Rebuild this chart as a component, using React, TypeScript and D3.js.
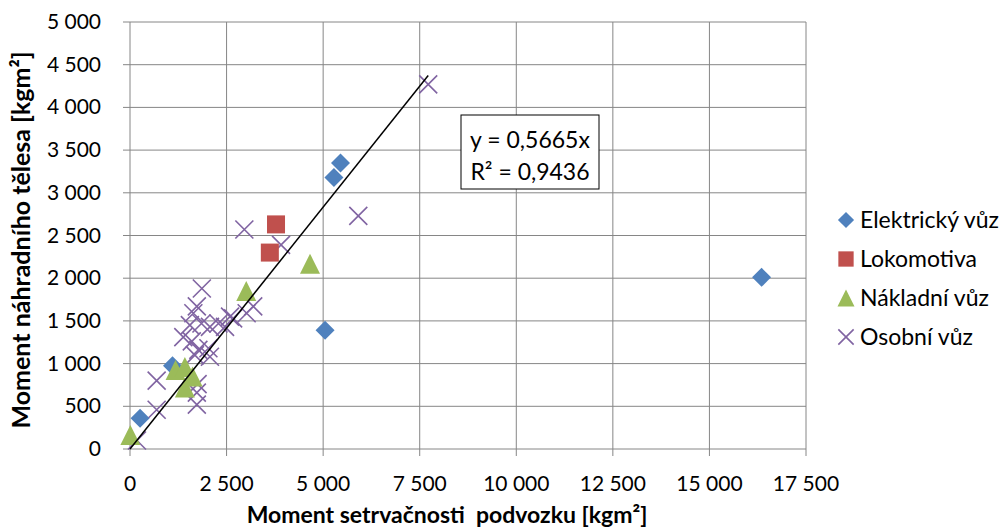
import React from "react";
import * as d3 from "d3";

const elektricky: [number, number][] = [
  [260, 360], [1100, 975], [5050, 1390], [5280, 3180], [5450, 3350], [16350, 2010],
];
const lokomotiva: [number, number][] = [
  [3620, 2300], [3780, 2630],
];
const nakladni: [number, number][] = [
  [10, 165], [1180, 925], [1420, 960], [1420, 720], [1620, 850], [3010, 1850], [4660, 2170],
];
const osobni: [number, number][] = [
  [180, 100], [690, 460], [690, 800], [1730, 520], [1730, 660], [1750, 760],
  [1680, 1100], [1770, 1160], [2030, 1180], [2070, 1080], [1600, 1260], [1380, 1310],
  [1550, 1450], [1850, 1470], [2070, 1430], [2290, 1470], [2590, 1550], [1640, 1590],
  [1730, 1670], [1860, 1880], [2460, 1430], [2670, 1530], [3020, 1590], [3190, 1670],
  [2960, 2570], [3910, 2390], [5910, 2730], [7720, 4270],
];
const seriesNames = ["Elektrický vůz", "Lokomotiva", "Nákladní vůz", "Osobní vůz"];
const seriesColors = ["#4F81BD", "#C0504D", "#9BBB59", "#8064A2"];
const slope = 0.5665;
const trendLabel = "y = 0,5665x";
const r2Label = "R² = 0,9436";
const xTicks = [0, 2500, 5000, 7500, 10000, 12500, 15000, 17500];
const yTicks = [0, 500, 1000, 1500, 2000, 2500, 3000, 3500, 4000, 4500, 5000];
const xTitle = "Moment setrvačnosti  podvozku [kgm²]";
const yTitle = "Moment náhradního tělesa [kgm²]";

const W = 1008, H = 530;
const L = 130, R = 806, T = 22, B = 449;
const FONT = "Lato, 'Open Sans', sans-serif";
const GRID = "#868686";

const fmt = (v: number) => {
  const s = String(v);
  return s.length > 3 ? s.slice(0, s.length - 3) + " " + s.slice(-3) : s;
};

function Marker({ type, x, y, s = 1 }: { type: number; x: number; y: number; s?: number }) {
  const c = seriesColors[type];
  if (type === 0) {
    const r = 9.5 * s;
    return <path d={`M${x},${y - r}L${x + r},${y}L${x},${y + r}L${x - r},${y}Z`} fill={c} />;
  }
  if (type === 1) {
    const h = 9 * s;
    return <rect x={x - h} y={y - h} width={2 * h} height={2 * h} fill={c} />;
  }
  if (type === 2) {
    const h = 10 * s;
    return <path d={`M${x},${y - h}L${x + h},${y + h}L${x - h},${y + h}Z`} fill={c} />;
  }
  const h = 9 * s;
  return (
    <path d={`M${x - h},${y - h}L${x + h},${y + h}M${x + h},${y - h}L${x - h},${y + h}`}
      stroke={c} strokeWidth={1.6} fill="none" />
  );
}

export default function App() {
  const x = d3.scaleLinear().domain([0, 17500]).range([L, R]);
  const y = d3.scaleLinear().domain([0, 5000]).range([B, T]);
  const series = [elektricky, lokomotiva, nakladni, osobni];
  const trendMax = d3.max(osobni, (d) => d[0]) as number;
  const line = d3.line<number>().x((v) => x(v)).y((v) => y(slope * v));
  const legendY = [220, 259, 298, 337];

  return (
    <svg width={W} height={H} style={{ position: "absolute", left: 0, top: 0, background: "#fff" }}
      fontFamily={FONT}>
      {xTicks.map((t) => (
        <g key={"x" + t}>
          <line x1={x(t)} x2={x(t)} y1={T} y2={B + 7} stroke={GRID} strokeWidth={1} />
          <text x={x(t)} y={B + 42} fontSize={21} textAnchor="middle" fill="#000">{fmt(t)}</text>
        </g>
      ))}
      {yTicks.map((t) => (
        <g key={"y" + t}>
          <line x1={L - 7} x2={R} y1={y(t)} y2={y(t)} stroke={GRID} strokeWidth={1} />
          <text x={101} y={y(t) + 7} fontSize={21} textAnchor="end" fill="#000">{fmt(t)}</text>
        </g>
      ))}
      {[3, 0, 1, 2].map((si) =>
        series[si].map((d, i) => <Marker key={si + "-" + i} type={si} x={x(d[0])} y={y(d[1])} />)
      )}
      <path d={line([0, trendMax]) || ""} stroke="#000" strokeWidth={1.5} fill="none" />
      <rect x={461} y={115} width={138} height={74} fill="#fff" stroke="#000" strokeWidth={1} />
      <text x={530} y={148} fontSize={23} textAnchor="middle">{trendLabel}</text>
      <text x={530} y={180} fontSize={23} textAnchor="middle">{r2Label}</text>
      {seriesNames.map((n, i) => (
        <g key={n}>
          <Marker type={i} x={846} y={legendY[i]} s={0.85} />
          <text x={860} y={legendY[i] + 8} fontSize={23}>{n}</text>
        </g>
      ))}
      <text x={447} y={523} fontSize={23} fontWeight="bold" textAnchor="middle"
        style={{ whiteSpace: "pre" }}>{xTitle}</text>
      <text transform={`translate(30,240) rotate(-90)`} fontSize={25}
        fontWeight="bold" textAnchor="middle">{yTitle}</text>
    </svg>
  );
}
